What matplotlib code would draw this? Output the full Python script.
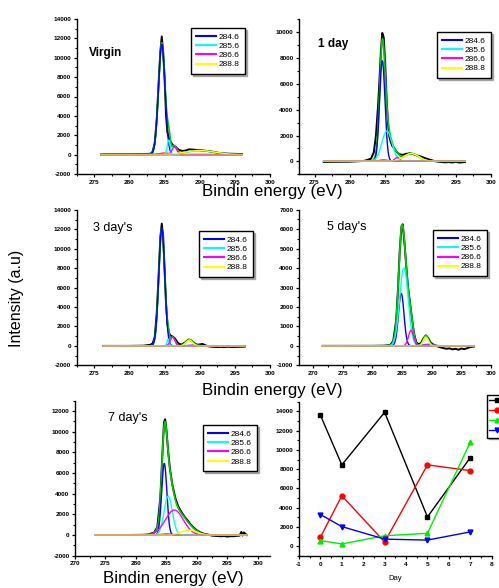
import numpy as np
import matplotlib
matplotlib.use('Agg')
import matplotlib.pyplot as plt
from matplotlib.ticker import MultipleLocator
from matplotlib.lines import Line2D

plt.rcParams['font.family'] = ['Liberation Sans', 'DejaVu Sans']
plt.rcParams['font.weight'] = 'bold'
plt.rcParams['axes.unicode_minus'] = False

W, H = 499, 588

# ---------------- data ----------------
peak_labels = ['284.6', '285.6', '286.6', '288.8']
comp_colors = ['#0000FF', '#00FFFF', '#FF00FF', '#FFFF00']

# Virgin
virgin_E = [276, 278, 280, 282, 283, 283.3, 283.6, 283.9, 284.2, 284.4, 284.6, 284.8, 285.0, 285.2,
            285.4, 285.6, 285.8, 286.0, 286.3, 286.6, 287.0, 287.5, 288.0, 288.5, 289.0, 289.5, 290.0,
            290.5, 291.0, 291.5, 292.0, 292.5, 293.0, 293.5, 294.0, 294.5, 295.0, 295.5, 296.0]
virgin_I = [20, 30, 40, 60, 90, 300, 1200, 3800, 8000, 10600, 12200, 10600, 8000, 4200,
            2300, 1800, 1400, 1150, 900, 800, 500, 380, 420, 550, 520, 480, 460,
            420, 380, 330, 280, 200, 150, 120, 100, 90, 80, 70, 60]
virgin_centers = [284.6, 285.6, 286.4, 290.0]
virgin_heights = [11400, 1500, 800, 420]
virgin_fwhm = [1.1, 0.5, 0.8, 5.0]
virgin_extra = [285.0, 150, 2.0]

# 1 day
day1_E = [276.3, 278, 280, 282, 283, 283.4, 283.7, 284.0, 284.2, 284.4, 284.6, 284.8, 285.0, 285.2,
          285.4, 285.6, 285.8, 286.0, 286.3, 286.6, 287.0, 287.5, 288.0, 288.5, 289.0, 289.5, 290.0,
          290.5, 291.0, 291.5, 292.0, 292.5, 293.0, 293.5, 294.0, 294.5, 295.0, 295.5, 296.3]
day1_I = [-50, -40, -30, 30, 200, 700, 2000, 4300, 6300, 8500, 9950, 9600, 7700, 5000,
          3000, 1900, 1500, 1200, 1000, 750, 550, 500, 580, 620, 560, 450, 380,
          280, 180, 100, 20, -30, -60, -80, -60, -90, -40, -100, -60]
day1_centers = [284.6, 285.25, 286.7, 288.7]
day1_heights = [7800, 2350, 300, 600]
day1_fwhm = [0.9, 1.7, 0.8, 2.5]
day1_extra = [284.8, 100, 1.5]

# 3 day's
day3_E = [276.3, 278, 280, 282, 283, 283.3, 283.6, 283.9, 284.2, 284.4, 284.6, 284.8, 285.0, 285.2,
          285.4, 285.6, 285.8, 286.0, 286.2, 286.5, 286.8, 287.1, 287.5, 288.0, 288.4, 288.8, 289.2,
          289.6, 290.0, 290.4, 290.8, 291.2, 291.6, 292.0, 292.5, 293.0, 293.5, 294.0, 294.5, 295.0,
          295.5, 296.4]
day3_I = [0, 0, 0, 20, 120, 250, 900, 3500, 8000, 11200, 12600, 11300, 8000, 4500,
          2300, 1400, 1100, 1000, 950, 750, 400, 180, 150, 400, 650, 550, 300,
          120, 150, 200, 60, -30, -80, -100, -120, -100, -130, -90, -120, -110,
          -100, -80]
day3_centers = [284.6, 285.5, 286.15, 288.5]
day3_heights = [12100, 700, 900, 600]
day3_fwhm = [1.0, 0.35, 0.8, 1.1]
day3_extra = [289.0, 90, 1.5]

# 5 day's
day5_E = [271.6, 274, 276, 278, 280, 282, 283, 283.5, 284.0, 284.3, 284.6, 284.9, 285.1, 285.4,
          285.7, 286.0, 286.3, 286.6, 287.0, 287.4, 287.8, 288.2, 288.6, 289.0, 289.4, 289.8, 290.2,
          290.6, 291.0, 291.5, 292.0, 292.5, 293.0, 293.5, 294.0, 294.5, 295.0, 295.5, 296.0, 296.5,
          297.1]
day5_I = [0, 0, 0, 0, 0, 10, 40, 250, 1300, 2900, 4900, 6150, 6250, 5300,
          4100, 3000, 2300, 1550, 650, 180, 80, 150, 380, 540, 400, 180, 80,
          20, -30, -80, -120, -150, -130, -180, -150, -200, -140, -170, -120, -60,
          -40]
day5_centers = [284.85, 285.3, 286.5, 289.0]
day5_heights = [2700, 4000, 800, 450]
day5_fwhm = [1.1, 1.7, 1.0, 1.0]
day5_extra = [289.3, 80, 2.0]

# 7 day's
day7_E = [273.4, 275, 277, 279, 281, 282, 283, 283.5, 284.0, 284.3, 284.6, 284.8, 285.0, 285.3,
          285.6, 286.0, 286.5, 287.0, 287.5, 288.0, 288.5, 289.0, 289.5, 290.0, 290.5, 291.0, 291.5,
          292.0, 292.5, 293.0, 293.5, 294.0, 294.5, 295.0, 295.5, 296.0, 296.5, 297.0, 297.3, 297.5,
          297.7, 298.2]
day7_I = [0, 0, 0, 10, 20, 50, 250, 750, 3600, 7300, 10900, 11200, 10200, 8000,
          6300, 4800, 3500, 2700, 2200, 1750, 1400, 1000, 700, 450, 280, 150, 80,
          20, -60, -80, -100, -120, -100, -150, -110, -120, -80, -60, 300, -50,
          250, 0]
day7_centers = [284.65, 285.3, 286.3, 288.7]
day7_heights = [6930, 3770, 2420, 480]
day7_fwhm = [1.0, 1.6, 3.5, 3.0]
day7_extra = [285.0, 100, 2.0]

# Area vs day
days = [0, 1, 3, 5, 7]
trend_black = [13600, 8450, 13900, 3050, 9200]
trend_red = [950, 5250, 450, 8450, 7850]
trend_green = [600, 250, 1100, 1350, 10800]
trend_blue = [3300, 2050, 750, 650, 1500]
trend_labels = ['      ', '      ', '      ', '      ']  # labels fall outside the figure

# ---------------- figure ----------------
fig = plt.figure(figsize=(W / 100, H / 100), dpi=100)


def rect(l, r, t, b):
    return [l / W, 1 - b / H, (r - l) / W, (b - t) / H]


def gauss(x, c, h, w):
    return h * np.exp(-4 * np.log(2) * (x - c) ** 2 / w ** 2)


def style(ax, xmaj, xmin, ymaj, ymin):
    for s in ['top', 'right']:
        ax.spines[s].set_visible(False)
    for s in ['left', 'bottom']:
        ax.spines[s].set_linewidth(1.0)
    ax.xaxis.set_major_locator(MultipleLocator(xmaj))
    ax.xaxis.set_minor_locator(MultipleLocator(xmin))
    ax.yaxis.set_major_locator(MultipleLocator(ymaj))
    ax.yaxis.set_minor_locator(MultipleLocator(ymin))
    ax.tick_params(which='major', direction='out', length=2.5, width=0.9, labelsize=4.6, pad=1.5)
    ax.tick_params(which='minor', direction='out', length=1.4, width=0.8)


def legend_at(ax, handles, labels, x, y, handlelength=2.3, borderpad=0.65, labelspacing=0.15):
    leg = ax.legend(handles, labels, loc='upper left', bbox_to_anchor=(x / W, 1 - y / H),
                    bbox_transform=fig.transFigure, borderaxespad=0,
                    prop={'weight': 'normal', 'size': 6}, handlelength=handlelength,
                    handletextpad=0.35, labelspacing=labelspacing, borderpad=borderpad,
                    fancybox=False,
                    shadow={'ox': 1.3, 'oy': -1.3, 'color': '0.55', 'alpha': 0.7}, framealpha=1)
    leg.get_frame().set_edgecolor('black')
    leg.get_frame().set_linewidth(1.0)
    return leg


def spectrum(ax, E, I, centers, heights, fwhm, extra, extra_color, xlim, ylim, ymaj, ymin, xmaj=5,
             legxy=None):
    grid = np.linspace(E[0], E[-1], 1200)
    comps = [gauss(grid, c, h, w) for c, h, w in zip(centers, heights, fwhm)]
    ext = gauss(grid, *extra)
    env = np.sum(comps, axis=0) + ext
    ax.plot(E, I, color='black', lw=1.4, zorder=2)
    ax.plot(grid, env, color='#00CC00', lw=1.2, zorder=3)
    ax.plot(grid, ext, color=extra_color, lw=1.0, zorder=4)
    for comp, col in zip(comps, comp_colors):
        ax.plot(grid, comp, color=col, lw=1.0, zorder=5)
    ax.plot([E[0], E[-1]], [0, 0], color='#C8A46E', lw=1.1, zorder=6)
    ax.set_xlim(*xlim)
    ax.set_ylim(*ylim)
    style(ax, xmaj, xmaj / 2, ymaj, ymin)
    handles = [Line2D([], [], color=c, lw=1.5) for c in comp_colors]
    legend_at(ax, handles, peak_labels, *legxy)


ax1 = fig.add_axes(rect(76.7, 270, 19, 174))
spectrum(ax1, virgin_E, virgin_I, virgin_centers, virgin_heights, virgin_fwhm, virgin_extra, '#FF0000',
         (272.5, 300), (-2000, 14000), 2000, 1000, legxy=(191, 28))

ax2 = fig.add_axes(rect(299, 491, 19.4, 174.2))
spectrum(ax2, day1_E, day1_I, day1_centers, day1_heights, day1_fwhm, day1_extra, '#FF0000',
         (272.8, 300), (-1000, 11000), 2000, 1000, legxy=(437, 32))

ax3 = fig.add_axes(rect(76.7, 270, 210, 365.3))
spectrum(ax3, day3_E, day3_I, day3_centers, day3_heights, day3_fwhm, day3_extra, '#9933FF',
         (272.5, 300), (-2000, 14000), 2000, 1000, legxy=(199, 231))

ax4 = fig.add_axes(rect(299, 491, 209.7, 365.3))
spectrum(ax4, day5_E, day5_I, day5_centers, day5_heights, day5_fwhm, day5_extra, '#9933FF',
         (267.6, 300), (-1000, 7000), 1000, 500, legxy=(433, 230))

ax5 = fig.add_axes(rect(75, 270, 400.7, 555.7))
spectrum(ax5, day7_E, day7_I, day7_centers, day7_heights, day7_fwhm, day7_extra, '#FF0000',
         (270, 302), (-2000, 13000), 2000, 1000, legxy=(203, 425))

ax6 = fig.add_axes(rect(299, 491.7, 401.7, 556))
series = [(trend_black, 'black', 's'), (trend_red, '#FF0000', 'o'),
          (trend_green, '#00EE00', '^'), (trend_blue, '#0000FF', 'v')]
for vals, col, mk in series:
    ax6.plot(days, vals, color=col, marker=mk, ms=3.5, lw=1.0)
ax6.set_xlim(-1, 8)
ax6.set_ylim(-1000, 15000)
style(ax6, 1, 0.5, 2000, 1000)
h6 = [Line2D([], [], color=c, marker=m, ms=3.5, lw=1.0) for _, c, m in series]
legend_at(ax6, h6, trend_labels, 486.7, 395, handlelength=1.8, borderpad=0.3, labelspacing=0.25)
ax6.set_xlabel('Day', fontsize=5.5, fontweight='normal', labelpad=6)

# ---------------- texts ----------------
def ftext(x, y, s, **kw):
    fig.text(x / W, 1 - y / H, s, **kw)

ftext(272.8, 192, 'Bindin energy (eV)', ha='center', va='center', fontsize=12.2, fontweight='normal')
ftext(272.8, 391, 'Bindin energy (eV)', ha='center', va='center', fontsize=12.2, fontweight='normal')
ftext(173, 578, 'Bindin energy (eV)', ha='center', va='center', fontsize=12.2, fontweight='normal')
ftext(17, 298, 'Intensity (a.u)', ha='center', va='center', rotation=90, fontsize=11.5, fontweight='normal')

ftext(89, 53, 'Virgin', ha='left', va='center', fontsize=8.5, fontweight='bold')
ftext(317.7, 44, '1 day', ha='left', va='center', fontsize=8.5, fontweight='bold')
ftext(93.3, 228.3, "3 day's", ha='left', va='center', fontsize=9, fontweight='normal')
ftext(326.7, 227.3, "5 day's", ha='left', va='center', fontsize=9, fontweight='normal')
ftext(107.7, 418, "7 day's", ha='left', va='center', fontsize=9, fontweight='normal')

fig.savefig('out.png', dpi=100)
